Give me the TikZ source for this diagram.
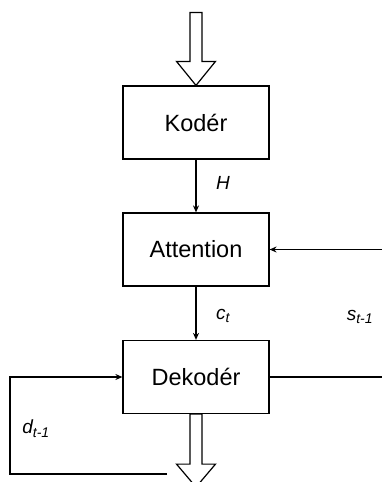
\documentclass[tikz,border=0pt]{standalone}
\usepackage{fontspec}
\setmainfont{Liberation Sans}
\usetikzlibrary{arrows.meta,calc}
\tikzset{
  block/.style={draw, line width=1.2pt, minimum width=146pt, minimum height=73pt,
    inner sep=0pt, font=\fontsize{23.5}{26}\selectfont},
  conn/.style={line width=1.2pt, -{Stealth[length=7pt,width=6pt]}},
  plain/.style={line width=1.2pt},
  hollow/.style={draw, line width=1.2pt, fill=white},
  lbl/.style={font=\fontsize{19}{22}\selectfont\itshape, inner sep=0pt},
  sub/.style={}
}
\newcommand{\lowidx}[1]{\textsubscript{\fontsize{14}{16}\selectfont #1}}
\begin{document}
\begin{tikzpicture}[x=1pt, y=-1pt]
  \clip (0,0) rectangle (382,482);
  \fill[white] (0,0) rectangle (382,482);

  % processing blocks
  \node[block] (kod) at (196,122.5) {Kodér};
  \node[block] (att) at (196,249.5) {Attention};
  \node[block] (dek) at (196,377) {Dekodér};

  % hollow input arrow into the encoder
  \draw[hollow] ($(kod.north)+(-6,-73)$) -- ($(kod.north)+(6,-73)$)
    -- ($(kod.north)+(6,-24)$) -- ($(kod.north)+(19.5,-24)$)
    -- (kod.north) -- ($(kod.north)+(-19.5,-24)$)
    -- ($(kod.north)+(-6,-24)$) -- cycle;

  % hollow output arrow from the decoder
  \draw[hollow] ($(dek.south)+(-6,0)$) -- ($(dek.south)+(6,0)$)
    -- ($(dek.south)+(6,50)$) -- ($(dek.south)+(19.5,50)$)
    -- ($(dek.south)+(0,73)$) -- ($(dek.south)+(-19.5,50)$)
    -- ($(dek.south)+(-6,50)$) -- cycle;

  % vertical data flow
  \draw[conn] (kod.south) -- (att.north);
  \draw[conn] (att.south) -- (dek.north);

  % decoder state fed back to attention
  \coordinate (sin) at (382,249.5);
  \coordinate (sout) at (382,377);
  \draw[conn] (sin) -- (att.east);
  \draw[plain] (dek.east) -- (sout);

  % previous output fed back to the decoder
  \coordinate (dfrom) at (167,474);
  \coordinate (dcorner) at (10,474);
  \draw[conn] (dfrom) -- (dcorner) |- (dek.west);

  % labels
  \node[lbl] (lH) at (223,183) {H};
  \node[lbl] (lc) at (223,316) {c\lowidx{t}};
  \node[lbl] (ls) at (360,317) {s\lowidx{t-1}};
  \node[lbl] (ld) at (36,429) {d\lowidx{t-1}};
\end{tikzpicture}
\end{document}
